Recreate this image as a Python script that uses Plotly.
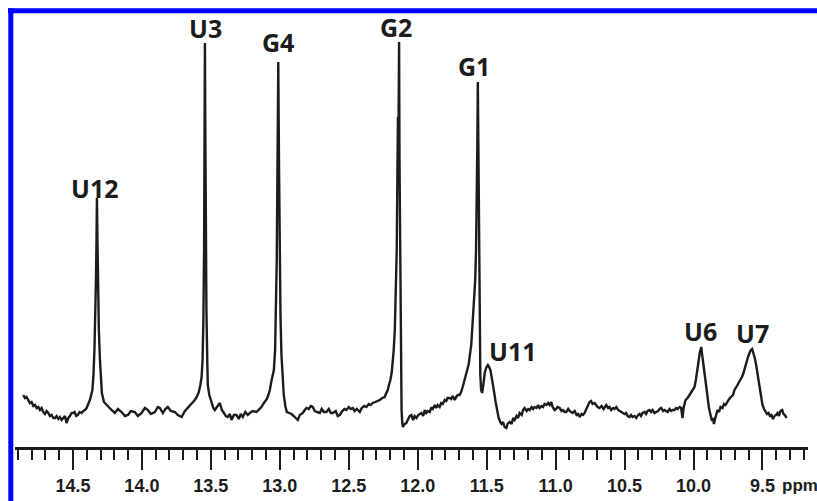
import plotly.graph_objects as go

# ---- spectrum (chemical shift in ppm, intensity in arbitrary units) ----
ppm = [
    14.860, 14.848, 14.836, 14.824, 14.812, 14.800, 14.787, 14.775, 14.763, 14.751,
    14.739, 14.727, 14.715, 14.703, 14.691, 14.679, 14.667, 14.655, 14.642, 14.630,
    14.618, 14.606, 14.594, 14.582, 14.570, 14.558, 14.546, 14.534, 14.522, 14.510,
    14.500, 14.488, 14.476, 14.464, 14.452, 14.437, 14.425, 14.413, 14.401, 14.391,
    14.377,
    14.359, 14.351, 14.344, 14.338, 14.333, 14.329, 14.326, 14.322, 14.317, 14.312,
    14.304, 14.297, 14.290, 14.275, 14.256,
    14.220, 14.196, 14.174, 14.147, 14.123, 14.101, 14.080, 14.051, 14.029, 14.002,
    13.978, 13.957, 13.935, 13.906, 13.884, 13.870, 13.848, 13.830, 13.812, 13.790,
    13.761, 13.739, 13.712, 13.688, 13.667, 13.649, 13.630, 13.616, 13.602, 13.587,
    13.576, 13.567,
    13.560, 13.554, 13.549, 13.546, 13.543, 13.540, 13.537, 13.532, 13.526, 13.522,
    13.511, 13.495, 13.482, 13.471,
    13.453, 13.435, 13.420, 13.406, 13.391, 13.377, 13.362, 13.350, 13.333, 13.314,
    13.297, 13.283, 13.268, 13.250, 13.232, 13.217, 13.196, 13.169, 13.152, 13.133,
    13.120, 13.109, 13.094, 13.083, 13.072, 13.062, 13.053,
    13.043, 13.034, 13.028, 13.022, 13.017, 13.011, 13.006, 13.000, 12.995, 12.988,
    12.981, 12.971, 12.960, 12.949,
    12.931, 12.915, 12.899, 12.884, 12.870, 12.855, 12.833, 12.819, 12.807, 12.790,
    12.775, 12.761, 12.746, 12.732, 12.710, 12.696, 12.681, 12.662, 12.645, 12.630,
    12.616, 12.594, 12.580, 12.565, 12.547, 12.531, 12.517, 12.500, 12.486, 12.471,
    12.457, 12.442, 12.420, 12.406, 12.388, 12.372, 12.355, 12.341, 12.326, 12.308,
    12.290, 12.275, 12.257, 12.239, 12.228, 12.217, 12.207, 12.198, 12.188, 12.181,
    12.174, 12.166, 12.159, 12.152,
    12.147, 12.143, 12.141, 12.137, 12.135, 12.132, 12.128, 12.125, 12.121, 12.117,
    12.112, 12.107, 12.094, 12.082,
    12.069, 12.058, 12.046, 12.033, 12.022, 12.009, 11.996, 11.986, 11.973, 11.960,
    11.949, 11.938, 11.927, 11.913, 11.902, 11.891, 11.877, 11.866, 11.855, 11.841,
    11.830, 11.819, 11.804, 11.793, 11.783, 11.768, 11.757, 11.746, 11.732, 11.721,
    11.710, 11.696, 11.685, 11.674, 11.663, 11.652, 11.641, 11.630, 11.620, 11.612,
    11.605, 11.598, 11.591, 11.583,
    11.577, 11.572, 11.568, 11.564, 11.560, 11.556, 11.551, 11.546, 11.540, 11.533,
    11.525, 11.514, 11.504, 11.491, 11.482, 11.473, 11.464, 11.457, 11.446, 11.435,
    11.424, 11.413, 11.402, 11.392, 11.381, 11.370, 11.357, 11.348, 11.333, 11.319,
    11.308, 11.297, 11.283, 11.272, 11.261, 11.246, 11.236, 11.225, 11.210, 11.199,
    11.188, 11.174, 11.163, 11.152, 11.138, 11.127, 11.116, 11.102, 11.091, 11.080,
    11.067, 11.054, 11.043, 11.031, 11.022, 11.007, 10.996, 10.986, 10.971, 10.957,
    10.946, 10.935, 10.923, 10.909, 10.899, 10.884, 10.877, 10.862, 10.848, 10.837,
    10.826, 10.812, 10.801, 10.790, 10.779, 10.768, 10.754, 10.743, 10.732, 10.717,
    10.707, 10.696, 10.681,
    10.667, 10.652, 10.633, 10.619, 10.609, 10.597, 10.583, 10.573, 10.560, 10.547,
    10.536, 10.525, 10.514, 10.500, 10.489, 10.478, 10.464, 10.453, 10.442, 10.428,
    10.415, 10.402, 10.391, 10.381, 10.370, 10.355, 10.344, 10.333, 10.319, 10.308,
    10.297, 10.283, 10.271, 10.257, 10.246, 10.234, 10.221, 10.210, 10.199, 10.188,
    10.174, 10.163, 10.152, 10.138, 10.127, 10.116, 10.101, 10.090, 10.080, 10.072,
    10.058, 10.043, 10.029, 10.014, 10.004, 9.993, 9.983, 9.976, 9.969, 9.962,
    9.954, 9.949, 9.944, 9.938, 9.931, 9.924, 9.917, 9.909, 9.902, 9.895,
    9.888, 9.880, 9.872, 9.866, 9.859, 9.852, 9.844, 9.837, 9.826, 9.815,
    9.804, 9.790, 9.779, 9.768, 9.757, 9.746, 9.736, 9.725, 9.714, 9.703,
    9.692, 9.681, 9.670, 9.659, 9.649, 9.638, 9.627, 9.616, 9.605, 9.594,
    9.585, 9.575, 9.565, 9.556, 9.546, 9.536, 9.529, 9.522, 9.514, 9.507,
    9.500, 9.489, 9.478, 9.467, 9.456, 9.446, 9.435, 9.424, 9.413, 9.402,
    9.391, 9.380, 9.370, 9.357, 9.348, 9.337, 9.326,
]

intensity = [
    15, 12, 13, 10, 7, 8, 4, 5, 2, 3,
    0, 2, -2, -4, -1, -3, -6, -5, -8, -8,
    -6, -9, -7, -10, -8, -6, -13, -8, -6, -3,
    -3, -2, -6, -5, -2, -3, -1, 0, 2, 5,
    10,
    20, 35, 60, 90, 130, 170, 212, 170, 120, 80,
    50, 30, 17, 8, 5,
    0, -3, 1, -2, -6, -5, -1, -2, -6, -3,
    2, 0, -4, -2, 3, 2, -3, 1, 3, -1,
    -2, -5, -7, -1, 2, 5, 7, 10, 13, 18,
    25, 33,
    50, 90, 160, 260, 367, 280, 180, 100, 50, 25,
    15, 7, 2, 0,
    4, 7, 0, -3, -6, -7, -4, -10, -5, -5,
    -9, -4, -7, -2, -5, -3, -1, -2, 0, 3,
    6, 8, 11, 15, 20, 28, 35,
    40, 60, 95, 150, 240, 348, 250, 150, 95, 55,
    35, 15, 4, -2,
    -3, -4, -6, -8, -10, -5, -3, 0, 2, 1,
    4, 3, -1, -2, -3, 1, -2, -2, 1, -3,
    -3, -1, -6, -5, -1, 1, 0, 3, 1, 2,
    -1, 1, -2, 2, 4, 3, 6, 5, 7, 8,
    9, 10, 12, 13, 17, 20, 26, 30, 38, 48,
    60, 80, 110, 160,
    240, 293, 240, 300, 368, 250, 150, 80, 30, 0,
    -13, -17, -14, -13,
    -9, -6, -5, -10, -6, -8, -5, -4, -3, -6,
    0, -3, -1, -2, 2, 1, 5, 2, 5, 3,
    7, 6, 10, 9, 12, 12, 11, 14, 10, 13,
    15, 15, 18, 23, 28, 33, 40, 46, 55, 65,
    80, 95, 110, 130,
    160, 200, 260, 328, 260, 160, 80, 35, 20, 17,
    24, 37, 42, 45, 43, 40, 33, 28, 18, 8,
    -2, -8, -12, -14, -12, -17, -18, -14, -12, -14,
    -8, -10, -6, -8, -3, -5, 0, 2, -1, 1,
    0, 3, 1, 3, 2, 5, 2, 4, 3, 6,
    5, 7, 5, 8, 3, 0, 1, 3, 2, -1,
    0, -2, -2, 1, -1, -3, -3, -1, -5, -4,
    -7, -4, -5, -3, 1, 4, 8, 9, 6, 7,
    5, 3, 2,
    4, 1, 5, 2, 3, 0, 2, 1, 3, 0,
    -1, -2, -3, -4, -3, -6, -7, -5, -7, -6,
    -8, -5, -4, -6, -3, -2, -4, -1, 0, -2,
    0, -3, -2, -1, 1, 2, -1, 0, -1, -2,
    1, -1, 0, 0, 2, 1, 3, 2, -8, 2,
    10, 12, 15, 18, 21, 23, 30, 37, 45, 53,
    58, 60, 63, 56, 48, 40, 32, 23, 16, 9,
    2, -3, -7, -11, -8, -14, -9, -4, 0, -2,
    3, 2, 6, 5, 8, 10, 12, 14, 15, 20,
    22, 25, 28, 30, 33, 37, 43, 48, 53, 57,
    60, 61, 57, 52, 45, 37, 30, 22, 15, 10,
    5, 1, -1, -4, -3, -6, -5, -9, -6, -5,
    -3, -6, -1, 0, -4, -5, -8,
]
assert len(ppm) == len(intensity)

# ---- peak assignments ----
peak_names = ["U12", "U3", "G4", "G2", "G1", "U11", "U6", "U7"]
peak_label_ppm = [14.341, 13.536, 13.011, 12.159, 11.594, 11.312, 9.946, 9.576]
peak_label_int = [222, 382, 368, 383, 344, 59, 79, 77]

# ---- axis ticks ----
tick_vals = [14.5, 14.0, 13.5, 13.0, 12.5, 12.0, 11.5, 11.0, 10.5, 10.0, 9.5]
tick_text = ["14.5", "14.0", "13.5", "13.0", "12.5", "12.0", "11.5", "11.0", "10.5", "10.0", "9.5"]
x_range = [14.92, 9.17]
y_range = [-37, 410]

INK = "#1c1c1c"
BLUE = "#0000ff"
LABEL_FONT = "Open Sans, Lato, DejaVu Sans, sans-serif"
TICK_FONT = "Liberation Sans, Arial, sans-serif"

fig = go.Figure()
fig.add_trace(go.Scatter(
    x=ppm, y=intensity, mode="lines",
    line=dict(color=INK, width=2.4),
    hoverinfo="skip", showlegend=False,
))

for name, px_, py_ in zip(peak_names, peak_label_ppm, peak_label_int):
    fig.add_annotation(
        x=px_, y=py_, xref="x", yref="y", text=name, showarrow=False,
        xanchor="center", yanchor="middle",
        font=dict(family=LABEL_FONT, size=25, color=INK, weight=700),
    )

fig.add_annotation(
    x=0.966, y=-0.087, xref="paper", yref="paper", text="ppm", showarrow=False,
    xanchor="left", yanchor="middle", borderpad=0,
    font=dict(family=TICK_FONT, size=17, color=INK, weight=700),
)

# blue frame (top and left edges)
fig.add_shape(type="line", xref="paper", yref="paper",
              x0=-0.0088, x1=1.02, y0=0.9758, y1=0.9758,
              line=dict(color=BLUE, width=5))
fig.add_shape(type="line", xref="paper", yref="paper",
              x0=-0.0053, x1=-0.0053, y0=0.9814, y1=-0.13,
              line=dict(color=BLUE, width=5))

fig.update_layout(
    width=817, height=501,
    margin=dict(l=15, r=9, t=0, b=54, autoexpand=False),
    paper_bgcolor="white", plot_bgcolor="white",
    showlegend=False,
    xaxis=dict(
        range=x_range, showgrid=False, zeroline=False, automargin=False,
        showline=True, linecolor=INK, linewidth=3,
        tickmode="array", tickvals=tick_vals, ticktext=tick_text,
        ticks="outside", ticklen=20, tickwidth=2, tickcolor=INK,
        tickfont=dict(family=TICK_FONT, size=18, color=INK, weight=700),
        minor=dict(tickmode="linear", tick0=9.5, dtick=0.1, ticks="outside",
                   ticklen=10, tickwidth=2, tickcolor=INK, showgrid=False),
    ),
    yaxis=dict(range=y_range, visible=False, showgrid=False, zeroline=False),
)

fig.write_html(
    "out.html",
    config={"displayModeBar": False},
    post_script="document.body.style.margin='0px';document.body.style.overflow='hidden';",
)
